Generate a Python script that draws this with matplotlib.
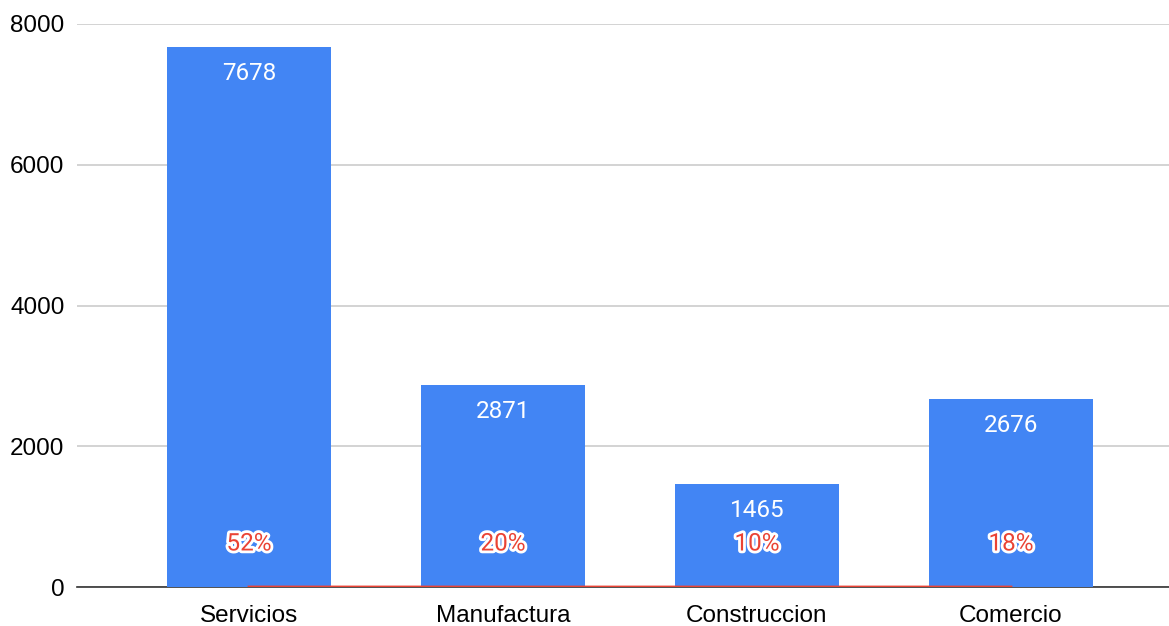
import matplotlib.pyplot as plt
import matplotlib.patheffects as pe

sectores = ["Servicios", "Manufactura", "Construccion", "Comercio"]
empleos = [7678, 2871, 1465, 2676]
porcentaje = [0.52, 0.20, 0.10, 0.18]
etiquetas_pct = ["52%", "20%", "10%", "18%"]

plt.rcParams['font.family'] = ['Liberation Sans', 'DejaVu Sans']

fig = plt.figure(figsize=(11.69, 6.26), dpi=100)
ax = fig.add_axes([77/1169, 39/626, 1 - 77/1169, 563/626])

x = list(range(len(sectores)))
barras = ax.bar(x, empleos, width=0.645, color="#4285F4", zorder=2)

# etiquetas de valor dentro de cada barra
for xi, v in zip(x, empleos):
    ax.annotate(str(v), (xi, v), xytext=(0, -27), textcoords="offset pixels",
                ha="center", va="center", color="white", fontsize=17.5,
                family=["Roboto", "DejaVu Sans"], zorder=4)

# serie de porcentaje (en el mismo eje, queda pegada al cero)
ax.plot(x, porcentaje, color="#EA4335", linewidth=2, zorder=3)
for xi, p, t in zip(x, porcentaje, etiquetas_pct):
    ax.annotate(t, (xi, p), xytext=(0, 43), textcoords="offset pixels",
                ha="center", va="center", color="#EA4335", fontsize=17.5,
                family=["Roboto", "DejaVu Sans"], zorder=5,
                path_effects=[pe.withStroke(linewidth=4, foreground="white")])

ax.set_xlim(-0.677, 3.622)
ax.set_ylim(0, 8000)
ax.set_yticks([0, 2000, 4000, 6000, 8000])
ax.set_xticks(x)
ax.set_xticklabels(sectores)
ax.tick_params(axis="both", length=0, labelsize=17.5, colors="#000000")
ax.tick_params(axis="x", pad=13)
ax.tick_params(axis="y", pad=9)
ax.grid(axis="y", color="#cccccc", linewidth=1.2, zorder=0)
ax.set_axisbelow(True)
for s in ["top", "right", "left"]:
    ax.spines[s].set_visible(False)
ax.spines["bottom"].set_color("#333333")
ax.spines["bottom"].set_linewidth(1.2)
ax.spines["bottom"].set_zorder(1)

fig.savefig("out.png", dpi=100)
